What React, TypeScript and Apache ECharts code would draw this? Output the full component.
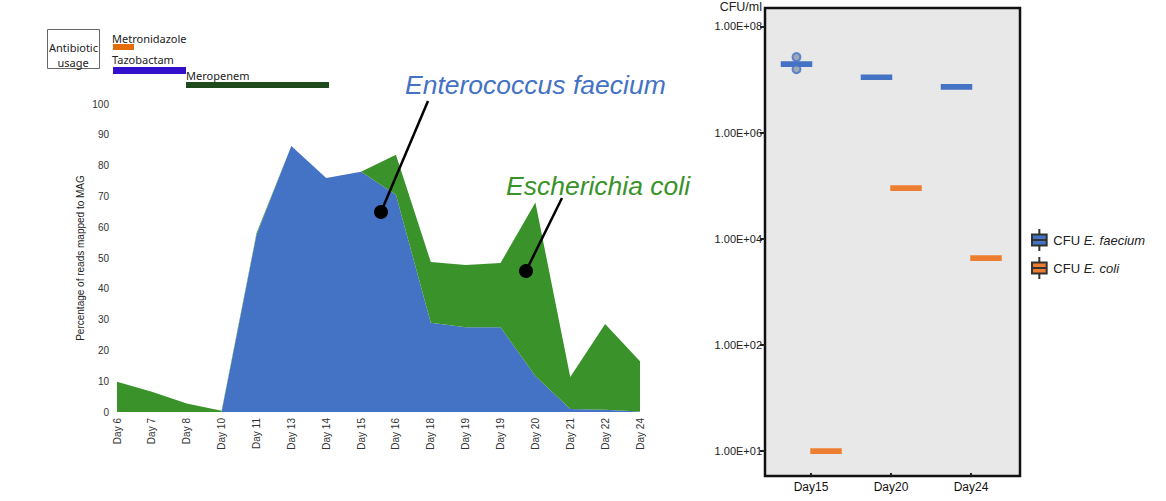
import React, { useEffect, useRef } from 'react';
import * as echarts from 'echarts';

// ---- Left chart data (percentage of reads mapped to MAG) ----
const days = ['Day 6', 'Day 7', 'Day 8', 'Day 10', 'Day 11', 'Day 13', 'Day 14', 'Day 15', 'Day 16', 'Day 18', 'Day 19', 'Day 19', 'Day 20', 'Day 21', 'Day 22', 'Day 24'];
const eFaeciumPct = [0, 0, 0, 0, 57.5, 86.4, 76, 78, 70.5, 29, 27.5, 27.5, 11.7, 1.0, 0.7, 0.2];
const eColiPct = [9.8, 6.6, 2.8, 0.4, 0.5, 0, 0, 0, 13, 19.7, 20.2, 20.9, 56.3, 10.4, 27.9, 16.3];

// ---- Right chart data (CFU/ml, boxplot: min, Q1, median, Q3, max) ----
const cfuDays = ['Day15', 'Day20', 'Day24'];
const cfuFaecium = [
  [1.72e7, 1.72e7, 1.85e7, 1.98e7, 1.98e7],
  [0.98e7, 0.98e7, 1.05e7, 1.12e7, 1.12e7],
  [6.45e6, 6.45e6, 6.9e6, 7.4e6, 7.4e6],
];
const cfuFaeciumPoints = [2.5e7, 1.48e7];
const cfuColi = [
  [0.93, 0.93, 1, 1.07, 1.07],
  [8.1e4, 8.1e4, 8.7e4, 9.3e4, 9.3e4],
  [3.9e3, 3.9e3, 4.2e3, 4.5e3, 4.5e3],
];
const cfuTickExps = [0, 2, 4, 6, 8];
const cfuTickLabels = ['1.00E+01', '1.00E+02', '1.00E+04', '1.00E+06', '1.00E+08'];

const BLUE = '#4472C4';
const GREEN = '#3A922A';
const ORANGE = '#ED7D31';
const SANS = '"Liberation Sans", Arial, sans-serif';
const UI = '"Noto Sans", "Open Sans", sans-serif';

const lg = (v: number) => Math.log10(v);

export default function App() {
  const ref = useRef<HTMLDivElement>(null);
  useEffect(() => {
    if (!ref.current) return;
    const chart = echarts.init(ref.current, undefined, { renderer: 'svg' });
    const rightGrid = { top: 8, height: 468, width: 240 };
    const hiddenX = (gi: number) => ({
      type: 'category', gridIndex: gi, data: cfuDays, show: false, axisLine: { onZero: false },
    });
    const hiddenY = (gi: number) => ({
      type: 'value', gridIndex: gi, min: -0.47, max: 8.32, show: false, splitLine: { show: false },
    });
    chart.setOption({
      animation: false,
      backgroundColor: '#ffffff',
      grid: [
        { left: 117, top: 104, width: 523, height: 308 },
        { left: 771, ...rightGrid },
        { left: 771 - 14.5, ...rightGrid },
        { left: 771 + 15, ...rightGrid },
      ],
      xAxis: [
        {
          type: 'category', gridIndex: 0, data: days, boundaryGap: false,
          axisLine: { show: false }, axisTick: { show: false },
          axisLabel: { rotate: 90, interval: 0, fontSize: 10, color: '#333', margin: 6, fontFamily: SANS },
        },
        {
          type: 'category', gridIndex: 1, data: cfuDays,
          axisLine: { show: false, onZero: false },
          axisTick: { show: true, alignWithLabel: true, inside: true, length: 3, lineStyle: { color: '#222', width: 2 } },
          axisLabel: { fontSize: 12, color: '#111', margin: 5, fontFamily: SANS },
        },
        hiddenX(2),
        hiddenX(3),
      ],
      yAxis: [
        {
          type: 'value', gridIndex: 0, min: 0, max: 100, interval: 10,
          axisLine: { show: false }, axisTick: { show: false }, splitLine: { show: false },
          axisLabel: { fontSize: 10, color: '#333', margin: 8, fontFamily: SANS },
          name: 'Percentage of reads mapped to MAG', nameLocation: 'middle', nameGap: 32,
          nameTextStyle: { fontSize: 10, color: '#222', fontFamily: SANS },
        },
        {
          type: 'value', gridIndex: 1, min: -0.47, max: 8.32, offset: 6,
          axisLine: { show: false }, splitLine: { show: false },
          axisTick: { show: true, customValues: cfuTickExps, length: 5, lineStyle: { color: '#222', width: 2 } },
          axisLabel: {
            customValues: cfuTickExps, fontSize: 11, color: '#222', margin: 3, fontFamily: SANS,
            formatter: (v: number) => {
              const i = cfuTickExps.findIndex((e) => Math.abs(e - v) < 1e-6);
              return i >= 0 ? cfuTickLabels[i] : '';
            },
          },
          name: 'CFU/ml', nameLocation: 'end', nameGap: 3,
          nameTextStyle: { fontSize: 12.5, color: '#222', fontFamily: SANS, align: 'right', verticalAlign: 'middle', padding: [0, 3, 0, 0] },
        },
        hiddenY(2),
        hiddenY(3),
      ],
      legend: {
        data: ['CFU E. faecium', 'CFU E. coli'],
        orient: 'vertical', left: 1026, top: 223, itemWidth: 18, itemHeight: 22, itemGap: 4,
        icon: 'path://M2,6H18V18H2Z M10,0V6 M10,18V24 M2,12H18',
        itemStyle: { borderColor: '#333', borderWidth: 2 },
        textStyle: {
          fontSize: 13, color: '#222', fontFamily: SANS,
          rich: { i: { fontStyle: 'italic', fontSize: 13, color: '#222', fontFamily: SANS } },
        },
        formatter: (n: string) => n.replace('CFU ', 'CFU {i|') + '}',
      },
      graphic: [
        // right panel frame
        { type: 'rect', z: -10, shape: { x: 765, y: 8, width: 255, height: 468 }, style: { fill: '#E8E8E8', stroke: '#111', lineWidth: 2.5 } },
        // antibiotic usage legend
        { type: 'rect', shape: { x: 47.5, y: 29.5, width: 52, height: 39 }, style: { fill: 'none', stroke: '#666', lineWidth: 1 } },
        { type: 'text', x: 49, y: 47, style: { text: 'Antibiotic', fontSize: 11, fontFamily: UI, fill: '#222', verticalAlign: 'middle' } },
        { type: 'text', x: 73, y: 62, style: { text: 'usage', fontSize: 11, fontFamily: UI, fill: '#222', align: 'center', verticalAlign: 'middle' } },
        { type: 'text', x: 112, y: 38, style: { text: 'Metronidazole', fontSize: 11, fontFamily: UI, fill: '#222', verticalAlign: 'middle' } },
        { type: 'rect', shape: { x: 113, y: 44, width: 21, height: 6 }, style: { fill: '#E46C0A' } },
        { type: 'text', x: 112, y: 59, style: { text: 'Tazobactam', fontSize: 11, fontFamily: UI, fill: '#222', verticalAlign: 'middle' } },
        { type: 'rect', shape: { x: 113, y: 67, width: 73, height: 7 }, style: { fill: '#3311CC' } },
        { type: 'text', x: 186, y: 75, style: { text: 'Meropenem', fontSize: 11, fontFamily: UI, fill: '#222', verticalAlign: 'middle' } },
        { type: 'rect', shape: { x: 186, y: 82, width: 143, height: 6 }, style: { fill: '#1E4A1E' } },
        // species annotations
        { type: 'text', z: 20, x: 405, y: 85, style: { text: 'Enterococcus faecium', fontSize: 26.5, fontStyle: 'italic', fontFamily: SANS, fill: BLUE, verticalAlign: 'middle' } },
        { type: 'text', z: 20, x: 506, y: 186, style: { text: 'Escherichia coli', fontSize: 26.5, fontStyle: 'italic', fontFamily: SANS, fill: GREEN, verticalAlign: 'middle' } },
        { type: 'line', z: 20, shape: { x1: 428, y1: 101, x2: 381, y2: 212 }, style: { stroke: '#000', lineWidth: 2.5 } },
        { type: 'circle', z: 20, shape: { cx: 381, cy: 212, r: 7 }, style: { fill: '#000' } },
        { type: 'line', z: 20, shape: { x1: 562, y1: 198, x2: 526, y2: 271 }, style: { stroke: '#000', lineWidth: 2.5 } },
        { type: 'circle', z: 20, shape: { cx: 526, cy: 271, r: 7 }, style: { fill: '#000' } },
      ],
      series: [
        {
          name: 'E. faecium reads', type: 'line', xAxisIndex: 0, yAxisIndex: 0, stack: 'mag',
          data: eFaeciumPct, symbol: 'none', lineStyle: { width: 0 },
          areaStyle: { color: BLUE, opacity: 1 }, itemStyle: { color: BLUE },
        },
        {
          name: 'E. coli reads', type: 'line', xAxisIndex: 0, yAxisIndex: 0, stack: 'mag',
          data: eColiPct, symbol: 'none', lineStyle: { width: 0 },
          areaStyle: { color: GREEN, opacity: 1 }, itemStyle: { color: GREEN },
        },
        {
          name: 'CFU E. faecium', type: 'boxplot', xAxisIndex: 2, yAxisIndex: 2,
          data: cfuFaecium.map((r) => r.map(lg)), boxWidth: [29, 29],
          itemStyle: { color: BLUE, borderColor: BLUE, borderWidth: 2.5 },
        },
        {
          name: 'CFU E. faecium', type: 'scatter', xAxisIndex: 2, yAxisIndex: 2,
          data: cfuFaeciumPoints.map((v) => [cfuDays[0], lg(v)]), symbolSize: 8,
          itemStyle: { color: '#8C97AD', borderColor: BLUE, borderWidth: 2 }, z: 5,
        },
        {
          name: 'CFU E. coli', type: 'boxplot', xAxisIndex: 3, yAxisIndex: 3,
          data: cfuColi.map((r) => r.map(lg)), boxWidth: [29, 29],
          itemStyle: { color: ORANGE, borderColor: ORANGE, borderWidth: 2.5 },
        },
      ],
    });
    return () => chart.dispose();
  }, []);
  return <div ref={ref} style={{ position: 'fixed', left: 0, top: 0, width: 1166, height: 501 }} />;
}
